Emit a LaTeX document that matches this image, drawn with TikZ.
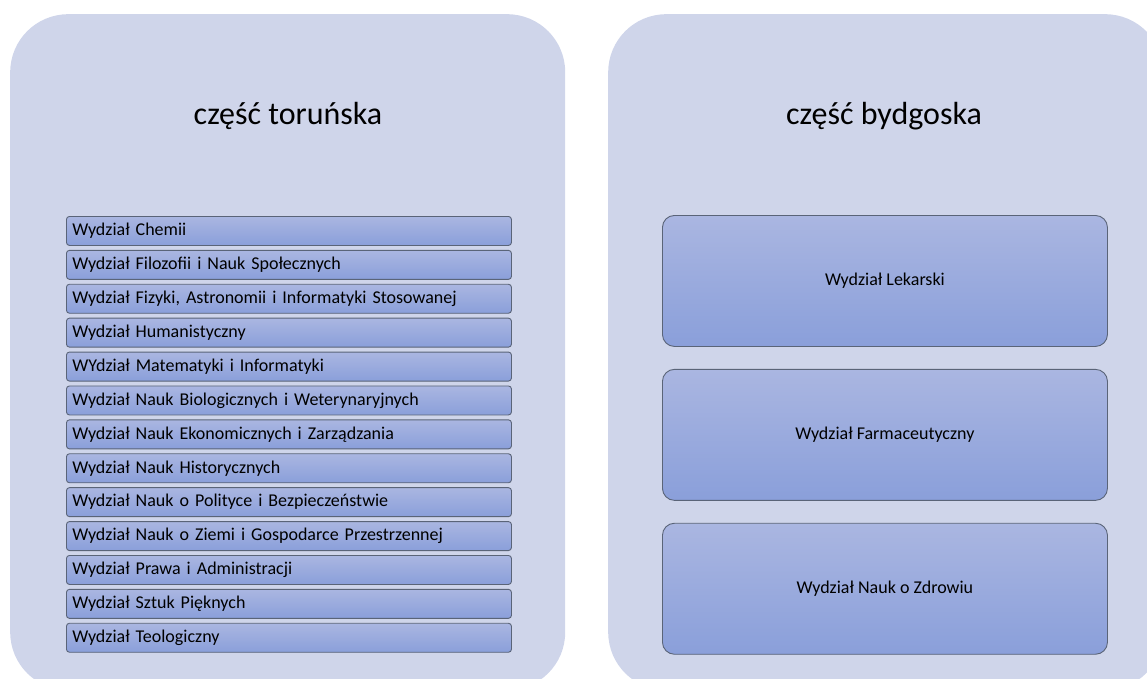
\documentclass[tikz,border=0pt]{standalone}
\usepackage{fontspec}
\setmainfont{Carlito}
\usepackage{xcolor}
\definecolor{panelbg}{HTML}{CFD5EA}
\definecolor{boxtop}{HTML}{AAB6E1}
\definecolor{boxbot}{HTML}{8A9FDA}
\definecolor{boxline}{HTML}{5A6478}
\usepackage{tikz}
\usetikzlibrary{positioning}

\begin{document}
\begin{tikzpicture}[
  x=1pt,y=-1pt,
  node distance=22pt,
  panel/.style={rectangle,fill=panelbg,rounded corners=58pt,
                minimum width=555pt,minimum height=676pt,anchor=north west},
  title/.style={font=\fontsize{32}{36}\selectfont,anchor=base},
  faculty/.style={rectangle,draw=boxline,line width=0.9pt,rounded corners=3pt,
                  top color=boxtop,bottom color=boxbot,anchor=north west,
                  minimum height=29pt,text width=433pt,inner xsep=6pt,align=left,
                  font=\fontsize{18}{21}\selectfont},
  unit/.style={rectangle,draw=boxline,line width=0.9pt,rounded corners=12pt,
               top color=boxtop,bottom color=boxbot,
               minimum width=445pt,minimum height=131pt,align=center,
               font=\fontsize{18}{21}\selectfont},
]
  \useasboundingbox (0,0) rectangle (1147,679);
  \clip (0,0) rectangle (1147,679);

  % panels
  \node[panel] (torun) at (10,14) {};
  \node[panel] (bydg) at (608,14) {};
  \node[title] (ttorun) at (288,125) {część toruńska};
  \node[title] (tbydg) at (884,125) {część bydgoska};

  % Toruń faculties
  \foreach \name [count=\i] in {Wydział Chemii,
      Wydział Filozofii i Nauk Społecznych,
      {Wydział Fizyki, Astronomii i Informatyki Stosowanej},
      Wydział Humanistyczny,
      WYdział Matematyki i Informatyki,
      Wydział Nauk Biologicznych i Weterynaryjnych,
      Wydział Nauk Ekonomicznych i Zarządzania,
      Wydział Nauk Historycznych,
      Wydział Nauk o Polityce i Bezpieczeństwie,
      Wydział Nauk o Ziemi i Gospodarce Przestrzennej,
      Wydział Prawa i Administracji,
      Wydział Sztuk Pięknych,
      Wydział Teologiczny}
    \node[faculty] (w\i) at (66,{216+33.9*(\i-1)}) {\name};

  % Bydgoszcz faculties
  \node[unit,anchor=north west] (lek) at (662,215) {Wydział Lekarski};
  \node[unit,below=22pt of lek] (farm) {Wydział Farmaceutyczny};
  \node[unit,below=22pt of farm] (zdr) {Wydział Nauk o Zdrowiu};
\end{tikzpicture}
\end{document}
